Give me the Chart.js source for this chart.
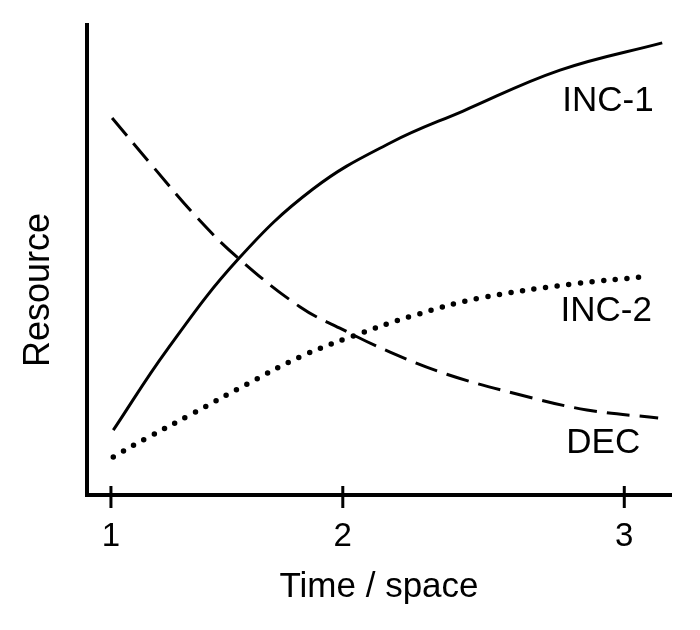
<!DOCTYPE html>
<html>
<head>
<meta charset="utf-8">
<title>Resource vs time / space</title>
<script src="https://cdn.jsdelivr.net/npm/chart.js@4"></script>
<style>
  html, body { margin: 0; padding: 0; background: #fff; }
</style>
</head>
<body>
<canvas id="chart" width="700" height="630"></canvas>
<script>
// x values are in axis units (0-100 along the drawn axis);
// the original puts ticks 1, 2, 3 at uneven spacing
const tickValues = [4.1, 43.8, 92.0];
const tickLabels = ['1', '2', '3'];

const inc1X = [4.5, 13.7, 25.9, 38.7, 51.9, 64.4, 81.0, 98.5];
const inc1Y = [13.8, 30.9, 50.2, 65.1, 74.9, 81.7, 90.4, 96.2];

const inc2X = [4.5, 9.9, 18.2, 27.4, 36.5, 44.2, 55.7, 67.3, 83.2, 95.2];
const inc2Y = [8.1, 11.9, 17.4, 23.6, 29.4, 33.2, 38.1, 41.9, 44.9, 46.4];

const decX = [4.3, 10.8, 18.8, 25.9, 36.5, 43.3, 51.9, 61.6, 73.6, 85.6, 97.8];
const decY = [80.2, 70.6, 59.1, 50.4, 40.0, 35.5, 30.4, 25.7, 21.5, 18.1, 16.4];

const seriesNames = ['INC-1', 'INC-2', 'DEC'];

const FONT = "'Liberation Sans', Arial, sans-serif";

function toPoints(xs, ys) {
  return xs.map((x, i) => ({ x: x, y: ys[i] }));
}

// where each curve name sits, in axis units
const nameSpots = [[89.2, 83.7], [88.9, 39.0], [88.4, 11.0]];

const extras = {
  id: 'extras',
  afterDraw(chart) {
    const { ctx, chartArea, scales } = chart;
    const x = scales.x, y = scales.y;
    ctx.save();

    // tick marks crossing the x axis
    ctx.strokeStyle = '#000';
    ctx.lineWidth = 3;
    tickValues.forEach((v) => {
      const px = x.getPixelForValue(v);
      ctx.beginPath();
      ctx.moveTo(px, chartArea.bottom - 9);
      ctx.lineTo(px, chartArea.bottom + 13);
      ctx.stroke();
    });

    // curve names
    ctx.fillStyle = '#000';
    ctx.font = '35px ' + FONT;
    ctx.textAlign = 'center';
    ctx.textBaseline = 'middle';
    seriesNames.forEach((name, i) => {
      ctx.fillText(name, x.getPixelForValue(nameSpots[i][0]), y.getPixelForValue(nameSpots[i][1]));
    });

    // y axis title, sits a bit below the middle in the original
    ctx.font = '36px ' + FONT;
    ctx.translate(chartArea.left - 48, (chartArea.top + chartArea.bottom) / 2 + 30);
    ctx.rotate(-Math.PI / 2);
    ctx.fillText('Resource', 0, 0);
    ctx.restore();
  }
};

new Chart(document.getElementById('chart').getContext('2d'), {
  type: 'line',
  data: {
    datasets: [
      {
        label: seriesNames[0],
        data: toPoints(inc1X, inc1Y),
        borderColor: '#000',
        borderWidth: 3,
      },
      {
        label: seriesNames[1],
        data: toPoints(inc2X, inc2Y),
        borderColor: '#000',
        borderWidth: 5.5,
        borderDash: [0, 11.7],
        borderCapStyle: 'round',
      },
      {
        label: seriesNames[2],
        data: toPoints(decX, decY),
        borderColor: '#000',
        borderWidth: 3,
        borderDash: [23, 10],
      },
    ],
  },
  options: {
    responsive: false,
    animation: false,
    layout: { padding: { left: 87, top: 25, right: 29, bottom: 22 } },
    elements: {
      point: { radius: 0 },
      line: { tension: 0.4, fill: false },
    },
    plugins: {
      legend: { display: false },
      tooltip: { enabled: false },
    },
    scales: {
      x: {
        type: 'linear',
        min: 0,
        max: 100,
        afterBuildTicks: (scale) => {
          scale.ticks = tickValues.map((v) => ({ value: v }));
        },
        afterFit: (scale) => {
          scale.height = 113;
        },
        ticks: {
          autoSkip: false,
          maxRotation: 0,
          padding: 22,
          color: '#000',
          font: { family: FONT, size: 33 },
          callback: (value, index) => tickLabels[index],
        },
        grid: { display: false, drawTicks: false },
        border: { display: true, color: '#000', width: 4 },
        title: {
          display: true,
          text: 'Time / space',
          color: '#000',
          font: { family: FONT, size: 35 },
          padding: { top: 10, bottom: 0 },
        },
      },
      y: {
        type: 'linear',
        min: 0,
        max: 100,
        afterFit: (scale) => {
          scale.width = 0;
        },
        ticks: { display: false },
        grid: { display: false, drawTicks: false },
        border: { display: true, color: '#000', width: 4 },
      },
    },
  },
  plugins: [extras],
});
</script>
</body>
</html>
